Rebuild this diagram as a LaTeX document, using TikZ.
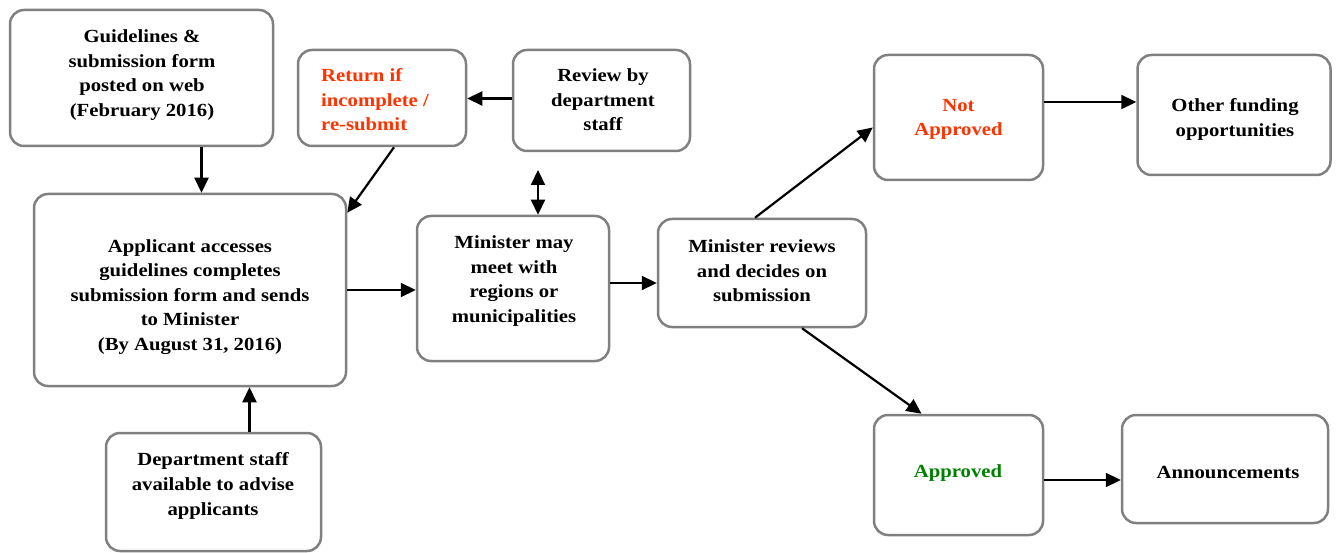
\documentclass[tikz,border=0pt]{standalone}
\usepackage{fontspec}
\setmainfont{Liberation Serif}[FakeStretch=1.12]
\usetikzlibrary{arrows.meta}
\definecolor{boxgray}{HTML}{808080}
\definecolor{redtxt}{HTML}{FF3300}
\definecolor{greentxt}{HTML}{008000}
\tikzset{
  box/.style={draw=boxgray, line width=2.5pt, rounded corners=14pt, fill=white, inner sep=0pt},
  txt/.style={font=\bfseries\fontsize{18.5}{24.6}\selectfont, align=center, inner sep=0pt},
  arr/.style={line width=2.2pt, -{Triangle[length=15pt,width=14pt]}},
  dblarr/.style={line width=2.2pt, {Triangle[length=15pt,width=14pt]}-{Triangle[length=15pt,width=14pt]}}
}
\begin{document}
\begin{tikzpicture}[x=1pt,y=-1pt]
\useasboundingbox (0,0) rectangle (1338,553);
% boxes
\node[box, minimum width=263pt, minimum height=136pt] (g) at (141.5,78) {};
\node[box, minimum width=168pt, minimum height=96pt] (ret) at (382,98) {};
\node[box, minimum width=177pt, minimum height=101pt] (revd) at (601.5,100.5) {};
\node[box, minimum width=312pt, minimum height=192pt] (app) at (190,290) {};
\node[box, minimum width=192pt, minimum height=145pt] (mm) at (513,288.5) {};
\node[box, minimum width=208pt, minimum height=108pt] (rev) at (762,273) {};
\node[box, minimum width=215pt, minimum height=118pt] (dept) at (213.5,492) {};
\node[box, minimum width=169pt, minimum height=125pt] (na) at (958.5,117.5) {};
\node[box, minimum width=193pt, minimum height=120pt] (oth) at (1234,115) {};
\node[box, minimum width=169pt, minimum height=120pt] (ap) at (958.5,475) {};
\node[box, minimum width=206pt, minimum height=108pt] (ann) at (1225,469) {};
% texts
\node[txt] (gt) at (142,75) {Guidelines \&\\submission form\\posted on web\\(February 2016)};
\node[txt, align=left, anchor=west, text=redtxt] (rett) at (321,100) {Return if\\incomplete /\\re-submit};
\node[txt] (revdt) at (603,100) {Review by\\department\\staff};
\node[txt] (appt) at (190,297) {Applicant accesses\\guidelines completes\\submission form and sends\\to Minister\\(By August 31, 2016)};
\node[txt] (mmt) at (514,281) {Minister may\\meet with\\regions or\\municipalities};
\node[txt] (revt) at (762,271) {Minister reviews\\and decides on\\submission};
\node[txt] (deptt) at (213,486) {Department staff\\available to advise\\applicants};
\node[txt, text=redtxt] (nat) at (958.5,119.5) {Not\\Approved};
\node[txt] (otht) at (1235,119.5) {Other funding\\opportunities};
\node[txt, text=greentxt] (apt) at (958,473) {Approved};
\node[txt] (annt) at (1228,473) {Announcements};
% connectors
\draw[arr] ([xshift=60pt]g.south) -- ([xshift=60pt]g.south |- app.north);
\draw[arr] ([yshift=2pt]revd.west) -- ([yshift=2pt]revd.west -| ret.east);
\draw[arr] ([xshift=12pt]ret.south) -- ([yshift=-20pt]app.north east);
\coordinate (dbltop) at (538,170);
\draw[dblarr] (dbltop) -- (dbltop |- mm.north);
\draw[arr] (app.east) -- (app.east -| mm.west);
\draw[arr] ([yshift=5.5pt]mm.east) -- ([yshift=5.5pt]mm.east -| rev.west);
\draw[arr] ([xshift=36pt]dept.north) -- ([xshift=36pt]dept.north |- app.south);
\draw[arr] ([xshift=-7pt]rev.north) -- ([yshift=-10pt]na.west);
\draw[arr] ([xshift=40pt]rev.south) -- ([xshift=-37pt]ap.north);
\draw[arr] ([yshift=15.5pt]na.east) -- ([yshift=15.5pt]na.east -| oth.west);
\draw[arr] ([yshift=-5pt]ap.east) -- ([yshift=-5pt]ap.east -| ann.west);
\end{tikzpicture}
\end{document}
